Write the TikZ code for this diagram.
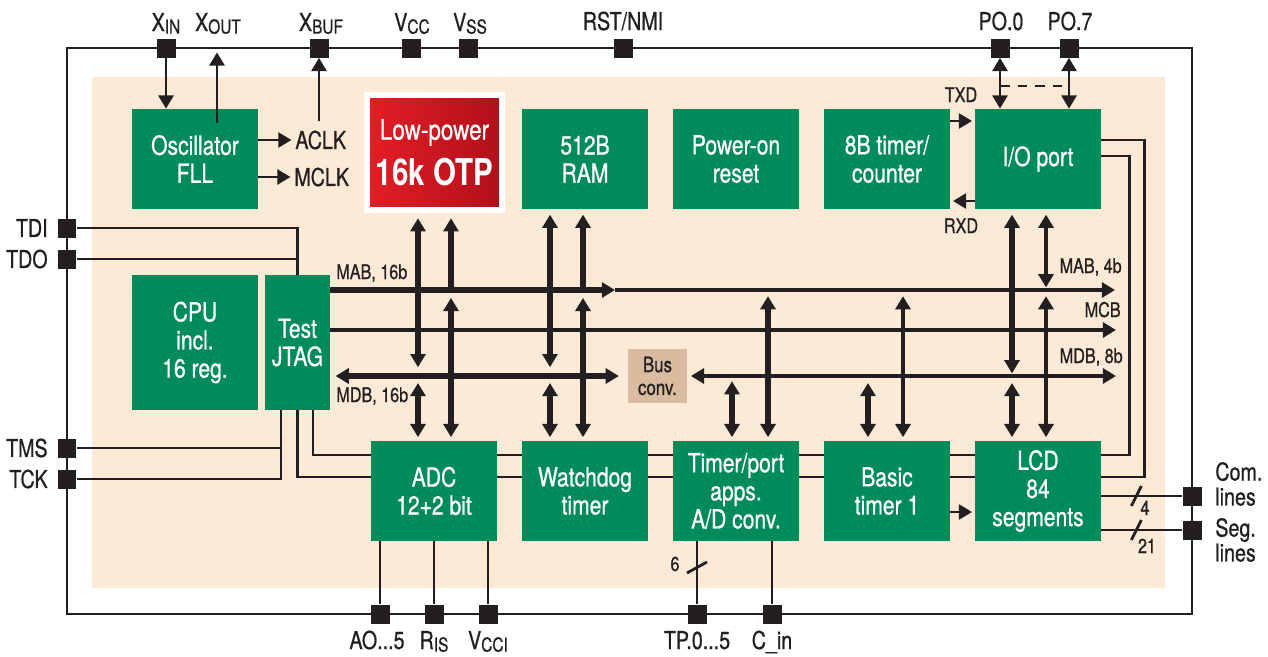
\documentclass[tikz,border=0pt]{standalone}
\usepackage{fontspec}
\setmainfont{TeX Gyre Heros}[FakeStretch=0.8, UprightFeatures={FakeBold=0.7}]
\usetikzlibrary{arrows.meta,calc}

\definecolor{chipgreen}{RGB}{0,140,90}
\definecolor{chipbeige}{RGB}{253,234,214}
\definecolor{convtan}{RGB}{217,187,160}
\definecolor{inkblack}{RGB}{35,31,32}
\definecolor{otpleft}{RGB}{228,30,38}
\definecolor{otpright}{RGB}{176,16,26}

\pgfdeclarelayer{back}
\pgfdeclarelayer{wires}
\pgfsetlayers{back,wires,main}

\newcommand{\pinsub}[1]{\raisebox{-1.5pt}{\fontsize{11}{11}\selectfont #1}}

\begin{document}
\begin{tikzpicture}[
  x=0.02cm, y=-0.02cm,
  >={Triangle[width=8.5pt,length=7.5pt]},
  block/.style={
    fill=chipgreen,
    text=white,
    minimum width=2.52cm,
    minimum height=2cm,
    inner sep=0pt,
    align=center,
    font=\fontsize{15}{16}\selectfont
  },
  otpbox/.style={
    draw=white,
    line width=3.4pt,
    left color=otpleft,
    right color=otpright,
    text=white,
    minimum width=2.7cm,
    minimum height=2.3cm,
    inner sep=0pt,
    align=center,
    font=\fontsize{16}{17}\selectfont
  },
  conv/.style={
    fill=convtan,
    text=inkblack,
    minimum width=1.18cm,
    minimum height=1.08cm,
    inner sep=0pt,
    align=center,
    font=\fontsize{12}{13}\selectfont
  },
  pin/.style={fill=inkblack, minimum size=0.38cm, inner sep=0pt},
  pinlabel/.style={text=inkblack, inner sep=0pt, font=\fontsize{14}{14.2}\selectfont},
  buslabel/.style={text=inkblack, inner sep=0pt, font=\fontsize{11.5}{12}\selectfont},
  wire/.style={draw=inkblack, line width=1.6pt},
  signal/.style={draw=inkblack, line width=2.1pt},
  bus/.style={draw=inkblack, line width=3.6pt}
]
\useasboundingbox (0,0) rectangle (1268,656);

%---------------------------------
% Chip outline
%---------------------------------
\begin{pgfonlayer}{back}
\fill[chipbeige] (92,77) rectangle (1165,588);
\draw[wire] (67,48) rectangle (1192,614);
\end{pgfonlayer}

%---------------------------------
% Top row
%---------------------------------
\node[block]  (osc)  at (195,159)    {Oscillator\\FLL};
\node[otpbox] (otp)  at (434.5,152.5) {Low-power\\[6pt]{\fontsize{21}{22}\selectfont\bfseries 16k OTP}};
\node[block]  (ram)  at (585,159)    {512B\\RAM};
\node[block]  (por)  at (736,159)    {Power-on\\reset};
\node[block]  (tmr8) at (887,159)    {8B timer/\\counter};
\node[block]  (io)   at (1038,159)   {I/O port};

%---------------------------------
% Middle row
%---------------------------------
\node[block, minimum height=2.7cm] (cpu) at (195,342.5) {CPU\\incl.\\16 reg.};
\node[block, minimum width=1.3cm, minimum height=2.7cm] (jtag) at (297.5,342.5) {Test\\JTAG};
\node[conv] (conv) at (657.5,376) {Bus\\conv.};

%---------------------------------
% Bottom row
%---------------------------------
\node[block] (adc) at (434,491)  {ADC\\12+2 bit};
\node[block] (wdt) at (585,491)  {Watchdog\\timer};
\node[block] (tpa) at (736,491)  {Timer/port\\apps.\\A/D conv.};
\node[block] (bt1) at (887,491)  {Basic\\timer 1};
\node[block] (lcd) at (1038,491) {LCD\\84\\segments};

%---------------------------------
% Pins
%---------------------------------
\node[pin] (xin)  at (166,48)  {};
\node[pin] (xbuf) at (319,48)  {};
\node[pin] (vcc)  at (411,48)  {};
\node[pin] (vss)  at (468,48)  {};
\node[pin] (rst)  at (623,48)  {};
\node[pin] (p00)  at (1000,48) {};
\node[pin] (p07)  at (1069,48) {};
\coordinate (xout) at (217,48);

\node[pin] (tdi) at (67,228) {};
\node[pin] (tdo) at (67,259) {};
\node[pin] (tms) at (67,448) {};
\node[pin] (tck) at (67,479) {};

\node[pin] (com) at (1192,496) {};
\node[pin] (seg) at (1192,530) {};

\node[pin] (ao)   at (380,614) {};
\node[pin] (ris)  at (434,614) {};
\node[pin] (vcci) at (488,614) {};
\node[pin] (tp)   at (697,614) {};
\node[pin] (cin)  at (772,614) {};

%---------------------------------
% Pin labels
%---------------------------------
\node[pinlabel, anchor=base] (xinlab)  at (166,31)  {X\pinsub{IN}};
\node[pinlabel, anchor=base] (xoutlab) at (218,31)  {X\pinsub{OUT}};
\node[pinlabel, anchor=base] (xbuflab) at (321,31)  {X\pinsub{BUF}};
\node[pinlabel, anchor=base] (vcclab)  at (412,31)  {V\pinsub{CC}};
\node[pinlabel, anchor=base] (vsslab)  at (470,31)  {V\pinsub{SS}};
\node[pinlabel, anchor=base] (rstlab)  at (623,30)  {RST/NMI};
\node[pinlabel, anchor=base] (p00lab)  at (1001,30) {PO.0};
\node[pinlabel, anchor=base] (p07lab)  at (1070,30) {PO.7};

\node[pinlabel, anchor=east] (tdilab) at (48,228) {TDI};
\node[pinlabel, anchor=east] (tdolab) at (48,259) {TDO};
\node[pinlabel, anchor=east] (tmslab) at (48,448) {TMS};
\node[pinlabel, anchor=east] (tcklab) at (48,479) {TCK};

\node[pinlabel, anchor=west, align=left] (comlab) at (1215,484) {Com.\\lines};
\node[pinlabel, anchor=west, align=left] (seglab) at (1215,540) {Seg.\\lines};

\node[pinlabel, anchor=base] (aolab)   at (377,649) {AO...5};
\node[pinlabel, anchor=base] (rislab)  at (434,649) {R\pinsub{IS}};
\node[pinlabel, anchor=base] (vccilab) at (488,649) {V\pinsub{CCI}};
\node[pinlabel, anchor=base] (tplab)   at (697,649) {TP.0...5};
\node[pinlabel, anchor=base] (cinlab)  at (772,649) {C\_in};

\node[pinlabel, anchor=west] (aclk) at (295,140) {ACLK};
\node[pinlabel, anchor=west] (mclk) at (294,177) {MCLK};

%---------------------------------
% Bus labels
%---------------------------------
\coordinate (mabmid) at (615,290);
\coordinate (mabend) at (1115,290);
\coordinate (mcbend) at (1116,330);
\coordinate (mdbend) at (1116,376);

\node[buslabel, anchor=base west] (mab16lab) at (336,279)  {MAB, 16b};
\node[buslabel, anchor=base west] (mdb16lab) at (336,402)  {MDB, 16b};
\node[buslabel, anchor=base east] (mab4lab)  at (1122,273) {MAB, 4b};
\node[buslabel, anchor=base east] (mcblab)   at (1121,317) {MCB};
\node[buslabel, anchor=base east] (mdb8lab)  at (1123,363) {MDB, 8b};
\node[buslabel, anchor=base] (txdlab) at (961,102) {TXD};
\node[buslabel, anchor=base] (rxdlab) at (961,233) {RXD};
\node[buslabel, anchor=base] (sixlab) at (675,571) {6};
\node[buslabel, anchor=base] (fourlab) at (1145,515) {4};
\node[buslabel, anchor=base] (twentyonelab) at (1147,553) {21};

%---------------------------------
% Clock and port connections
%---------------------------------
\draw[wire,->] (xin) -- (xin |- osc.north);
\draw[wire,->,shorten >=2.5pt] ($(osc.north)+(22,14)$) -- (xout);
\draw[wire,->,shorten <=5pt] (aclk.north -| xbuf) -- (xbuf);
\draw[wire,->,shorten >=2pt] (osc.east |- aclk) -- (aclk);
\draw[wire,->,shorten >=2pt] (osc.east |- mclk) -- (mclk);

\draw[wire,<->] (p00) -- (p00 |- io.north);
\draw[wire,<->] (p07) -- (p07 |- io.north);
\draw[wire,dash pattern=on 5.5pt off 4.5pt] ($(p00)+(0,38)$) -- ($(p07)+(0,38)$);

\draw[wire,->,shorten >=1.5pt] ($(tmr8.east)+(0,-38)$) -- ($(io.west)+(0,-38)$);
\draw[wire,->,shorten >=1.5pt] ($(io.west)+(0,42)$) -- ($(tmr8.east)+(0,42)$);
\draw[wire,->,shorten >=1.5pt] ($(bt1.east)+(0,21)$) -- ($(lcd.west)+(0,21)$);

%---------------------------------
% JTAG and LCD wiring
%---------------------------------
\begin{pgfonlayer}{wires}
\draw[wire] (tdi) -| (jtag.north);
\draw[wire] (tdo) -- (tdo -| jtag.north);
\draw[wire] (tck) -| ($(jtag.south)+(-16.5,0)$);
\draw[wire] (tms) -- ++(214,0);
\draw[wire] (jtag.south) |- ($(lcd.east)+(0,-14)$) -- ++(43,0) |- ($(io.east)+(0,-19)$);
\draw[wire] ($(jtag.south)+(15.5,0)$) |- ($(lcd.east)+(0,-36)$) -- ++(28,0) |- ($(io.east)+(0,-3)$);
\end{pgfonlayer}

\draw[wire] (com -| lcd.east) -- (com);
\draw[wire] (seg -| lcd.east) -- (seg);
\draw[wire] ($(com -| lcd.east)+(30,10)$) -- ++(10,-20);
\draw[wire] ($(seg -| lcd.east)+(30,10)$) -- ++(10,-20);

\draw[wire] (adc.south -| ao) -- (ao);
\draw[wire] (adc.south -| ris) -- (ris);
\draw[wire] (adc.south -| vcci) -- (vcci);
\draw[wire] (tpa.south -| tp) -- (tp);
\draw[wire] (tpa.south -| cin) -- (cin);
\draw[wire] ($(tp)+(-10,-41)$) -- ++(20,-11);

%---------------------------------
% Horizontal buses
%---------------------------------
\draw[bus,->] (jtag.east |- mabmid) -- (mabmid);
\draw[signal,->] (mabmid) -- (mabend);
\draw[signal,->] (jtag.east |- mcbend) -- (mcbend);
\draw[bus,<->,shorten <=3pt,shorten >=5pt] (jtag.east |- conv) -- (conv);
\draw[signal,<->,shorten <=2pt] (conv) -- (mdbend);

%---------------------------------
% Vertical bus taps
%---------------------------------
\draw[bus,<->,shorten <=3pt,shorten >=5pt] (418,0 |- otp.south) -- (418,0 |- conv);
\draw[bus,<->,shorten <=4pt,shorten >=2pt] (418,0 |- conv) -- (418,0 |- adc.north);
\draw[bus,->,shorten >=3pt] (451,0 |- mabmid) -- (451,0 |- otp.south);
\draw[bus,<->,shorten <=4.5pt,shorten >=2pt] (451,0 |- mabmid) -- (451,0 |- adc.north);

\draw[bus,<->,shorten <=3pt,shorten >=5pt] (550,0 |- ram.south) -- (550,0 |- conv);
\draw[bus,<->,shorten <=4pt,shorten >=2pt] (550,0 |- conv) -- (550,0 |- wdt.north);
\draw[bus,->,shorten >=3pt] (583,0 |- mabmid) -- (583,0 |- ram.south);
\draw[bus,<->,shorten <=4.5pt,shorten >=2pt] (583,0 |- mabmid) -- (583,0 |- wdt.north);

\draw[bus,<->,shorten <=3pt,shorten >=2pt] (732,0 |- conv) -- (732,0 |- tpa.north);
\draw[bus,<->,shorten <=3.5pt,shorten >=2pt] (768,0 |- mabmid) -- (768,0 |- tpa.north);

\draw[bus,<->,shorten <=4pt,shorten >=2pt] (868,0 |- conv) -- (868,0 |- bt1.north);
\draw[signal,<->,shorten <=3.5pt,shorten >=2pt] (903,0 |- mabmid) -- (903,0 |- bt1.north);

\draw[bus,<->,shorten <=4pt,shorten >=2pt] (1012,0 |- conv) -- (1012,0 |- lcd.north);
\draw[signal,<->,shorten <=3.5pt,shorten >=2pt] (1046,0 |- mabmid) -- (1046,0 |- lcd.north);
\draw[bus,<->,shorten <=3pt,shorten >=1.5pt] (1012,0 |- io.south) -- (1012,0 |- conv);
\draw[signal,<->,shorten <=3pt,shorten >=1.5pt] (1046,0 |- io.south) -- (1046,0 |- mabmid);

\end{tikzpicture}
\end{document}
